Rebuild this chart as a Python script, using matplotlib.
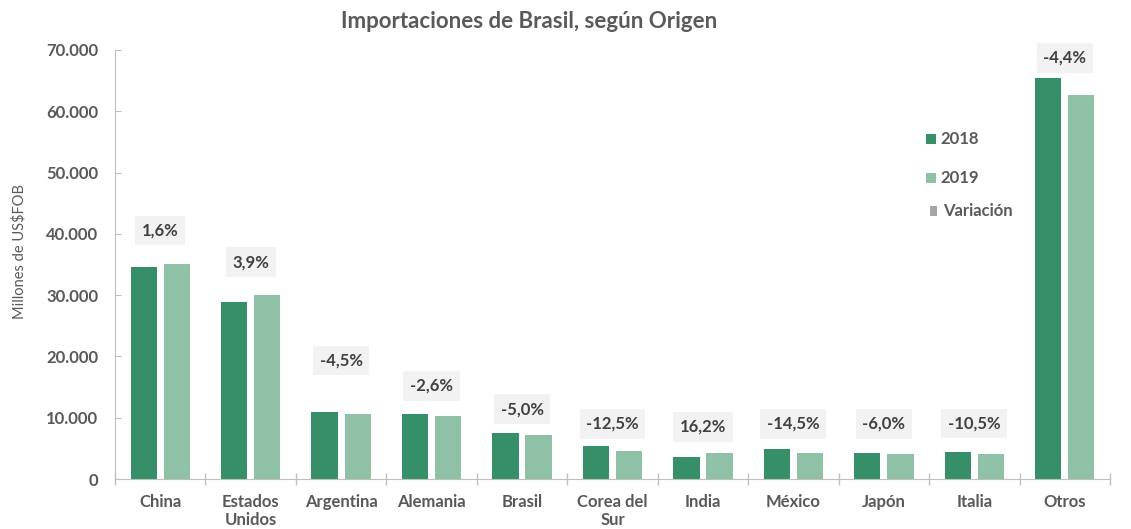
import matplotlib
matplotlib.use("Agg")
import matplotlib.pyplot as plt
from matplotlib.patches import Rectangle
from matplotlib.ticker import FuncFormatter, FixedLocator
import numpy as np

# ---------------- data ----------------
categories = ["China", "Estados\nUnidos", "Argentina", "Alemania", "Brasil",
              "Corea del\nSur", "India", "México", "Japón", "Italia", "Otros"]
imports_2018 = [34600, 28900, 10950, 10600, 7450, 5350, 3600, 4900, 4250, 4450, 65500]
imports_2019 = [35150, 30100, 10550, 10300, 7100, 4650, 4200, 4200, 4050, 4050, 62650]
variation = ["1,6%", "3,9%", "-4,5%", "-2,6%", "-5,0%", "-12,5%", "16,2%",
             "-14,5%", "-6,0%", "-10,5%", "-4,4%"]
series_names = ["2018", "2019", "Variación"]

# ---------------- layout ----------------
label_heights = [40600, 35400, 19300, 15200, 11400, 9000, 8500, 9000, 9000, 9100, 68700]

C18 = "#378F69"
C19 = "#8FC1A6"
CVAR = "#A6A6A6"
GREY = "#595959"
plt.rcParams['font.family'] = ['Lato', 'DejaVu Sans']

fig = plt.figure(figsize=(11.31, 5.29), dpi=100)
ax = fig.add_axes([115/1131, 1-479/529, 995/1131, 429/529])

x = np.arange(len(categories))
w = 0.29
off = 0.183
ax.bar(x - off, imports_2018, width=w, color=C18, zorder=2)
ax.bar(x + off, imports_2019, width=w, color=C19, zorder=2)

for xi, lab, hy in zip(x, variation, label_heights):
    ax.text(xi, hy, lab, ha="center", va="center", fontsize=12, fontweight="bold",
            color="#404040",
            bbox=dict(boxstyle="square,pad=0.4", fc="#F2F2F2", ec="none"))

ax.set_xlim(-0.5, len(categories) - 0.5)
ax.set_ylim(0, 70000)
ax.set_yticks(np.arange(0, 70001, 10000))
ax.yaxis.set_major_formatter(FuncFormatter(lambda v, p: f"{int(v):,}".replace(",", ".")))
ax.set_xticks(x)
ax.set_xticklabels(categories, fontsize=12, fontweight="bold", color=GREY, linespacing=1.15)
ax.xaxis.set_minor_locator(FixedLocator(np.arange(-0.5, len(categories), 1.0)))
ax.tick_params(axis="x", which="major", length=0, pad=11)
ax.tick_params(axis="x", which="minor", length=8, direction="inout", color="#BFBFBF", width=1)
ax.tick_params(axis="y", length=4, direction="in", color="#BFBFBF", labelsize=12,
               labelcolor=GREY, pad=12)
for t in ax.get_yticklabels():
    t.set_fontweight("bold")

for s in ["top", "right"]:
    ax.spines[s].set_visible(False)
ax.spines["left"].set_color("#BFBFBF")
ax.spines["bottom"].set_color("#BFBFBF")

ax.set_ylabel("Millones de US\\$FOB", fontsize=10.5, color=GREY)
ax.yaxis.set_label_coords(-0.089, 0.53)

fig.text(529/1131, 1-22/529, "Importaciones de Brasil, según Origen", ha="center", va="center",
         fontsize=16, fontweight="bold", color=GREY)

# legend
leg = [(C18, 139, 926, 10, 10), (C19, 178, 926, 10, 10), (CVAR, 211, 930, 7, 10)]
for (col, yy, xx, sw, sh), name in zip(leg, series_names):
    fig.patches.append(Rectangle((xx/1131, 1-(yy+sh/2)/529), sw/1131, sh/529,
                                 transform=fig.transFigure, fc=col, ec="none"))
    fig.text((940 if name != "Variación" else 943)/1131, 1-yy/529, name, ha="left",
             va="center", fontsize=12, fontweight="bold", color=GREY)

fig.savefig("out.png", dpi=100)
